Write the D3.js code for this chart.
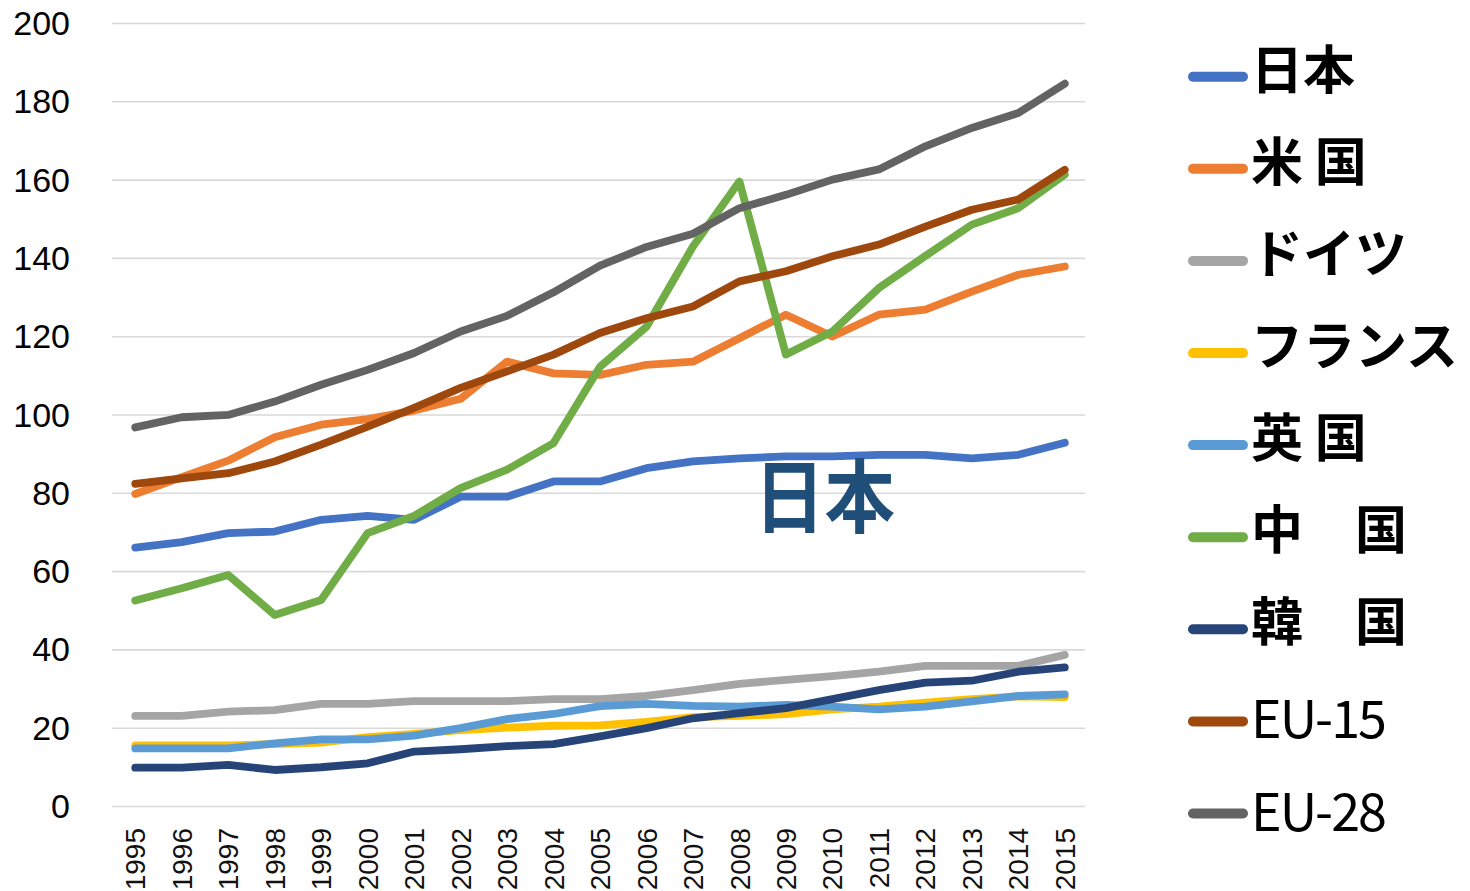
<!DOCTYPE html>
<html>
<head>
<meta charset="utf-8">
<script src="https://cdn.jsdelivr.net/npm/d3@7"></script>
<style>
  html, body { margin: 0; padding: 0; background: #fff; }
  svg { display: block; }
</style>
</head>
<body>
<svg id="chart" width="1470" height="891"></svg>
<script>
const years = ["1995","1996","1997","1998","1999","2000","2001","2002","2003","2004","2005","2006","2007","2008","2009","2010","2011","2012","2013","2014","2015"];
const yTicks = [0, 20, 40, 60, 80, 100, 120, 140, 160, 180, 200];

const japan   = [66.0, 67.4, 69.7, 70.1, 73.1, 74.1, 73.1, 79.0, 79.0, 82.9, 82.9, 86.3, 88.0, 88.8, 89.3, 89.3, 89.7, 89.7, 88.8, 89.7, 92.8];
const usa     = [79.7, 84.0, 88.2, 94.2, 97.4, 98.8, 101.0, 104.0, 113.5, 110.5, 110.1, 112.7, 113.5, 119.5, 125.5, 119.9, 125.5, 126.8, 131.4, 135.7, 137.8];
const germany = [23.0, 23.0, 24.1, 24.5, 26.1, 26.1, 26.8, 26.8, 26.8, 27.3, 27.3, 28.1, 29.6, 31.2, 32.2, 33.2, 34.3, 35.8, 35.8, 35.8, 38.6];
const france  = [15.5, 15.5, 15.5, 15.8, 16.2, 17.6, 18.4, 19.4, 20.0, 20.5, 20.6, 21.5, 22.7, 23.0, 23.5, 24.7, 25.4, 26.4, 27.3, 28.0, 27.8];
const uk      = [14.7, 14.7, 14.7, 16.0, 17.0, 17.0, 18.0, 19.9, 22.2, 23.5, 25.5, 26.1, 25.6, 25.4, 25.8, 25.4, 24.7, 25.4, 26.7, 28.1, 28.5];
const china   = [52.5, 55.6, 59.0, 48.8, 52.6, 69.7, 74.1, 81.2, 85.9, 92.7, 112.2, 122.4, 142.9, 159.5, 115.3, 121.2, 132.3, 140.5, 148.5, 152.7, 161.3];
const korea   = [9.8, 9.8, 10.5, 9.2, 9.9, 10.9, 13.9, 14.5, 15.3, 15.8, 17.8, 19.9, 22.4, 23.7, 25.0, 27.3, 29.6, 31.5, 32.0, 34.3, 35.4];
const eu15    = [82.3, 83.7, 85.0, 88.0, 92.3, 96.9, 101.7, 106.8, 111.0, 115.3, 120.8, 124.6, 127.6, 134.0, 136.6, 140.4, 143.4, 148.0, 152.3, 154.9, 162.5];
const eu28    = [96.7, 99.3, 99.9, 103.3, 107.6, 111.4, 115.7, 121.2, 125.2, 131.2, 138.0, 142.8, 146.2, 152.7, 156.1, 160.0, 162.6, 168.5, 173.2, 177.0, 184.5];

const seriesNames  = ["日本", "米 国", "ドイツ", "フランス", "英 国", "中\u3000国", "韓\u3000国", "EU-15", "EU-28"];
const seriesValues = [japan, usa, germany, france, uk, china, korea, eu15, eu28];
const seriesColors = ["#4472C4", "#ED7D31", "#A5A5A5", "#FFC000", "#5B9BD5", "#70AD47", "#264478", "#9E480E", "#636363"];
const annotation = "日本";

const svg = d3.select("#chart");
const plotLeft = 112, plotRight = 1088, plotTop = 23, plotBottom = 806;

const x = d3.scaleBand().domain(years).range([plotLeft, plotRight]);
const y = d3.scaleLinear().domain([0, 200]).range([plotBottom, plotTop]);
const cx = d => x(d) + x.bandwidth() / 2;

// Y axis with gridlines
const yAxis = svg.append("g")
  .attr("transform", `translate(${plotLeft},0)`)
  .call(d3.axisLeft(y).tickValues(yTicks).tickSize(-(plotRight - plotLeft - 3)).tickPadding(42));
yAxis.select(".domain").remove();
yAxis.selectAll(".tick line").attr("stroke", "#D9D9D9").attr("stroke-width", 1.6);
yAxis.selectAll(".tick text")
  .attr("fill", "#000")
  .attr("dy", "0.34em")
  .style("font-family", "'Liberation Sans', Arial, sans-serif")
  .style("font-size", "34px");

// X axis
const xAxis = svg.append("g")
  .attr("transform", `translate(0,${plotBottom})`)
  .call(d3.axisBottom(x).tickSize(0));
xAxis.select(".domain").remove();
xAxis.selectAll(".tick text")
  .attr("transform", "rotate(-90)")
  .attr("text-anchor", "end")
  .attr("x", -22)
  .attr("y", 0)
  .attr("dy", "0.36em")
  .attr("fill", "#111")
  .style("font-family", "'Liberation Sans', Arial, sans-serif")
  .style("font-size", "28px");

// Lines
const line = d3.line()
  .x((d, i) => cx(years[i]))
  .y(d => y(d));

seriesValues.forEach((vals, i) => {
  svg.append("path")
    .datum(vals)
    .attr("d", line)
    .attr("fill", "none")
    .attr("stroke", seriesColors[i])
    .attr("stroke-width", 7.8)
    .attr("stroke-linejoin", "round")
    .attr("stroke-linecap", "round");
});

// Annotation
svg.append("g")
  .attr("transform", `translate(${x("2008") + 38},${y(0) - 280}) scale(0.88,1)`)
  .append("text")
  .attr("x", 0)
  .attr("y", 0)
  .attr("fill", "#1F4E79")
  .style("font-family", "'Noto Sans CJK JP', sans-serif")
  .style("font-weight", "bold")
  .style("font-size", "80px")
  .text(annotation);

// Legend
const legend = svg.append("g");
seriesNames.forEach((name, i) => {
  const ly = 76.7 + i * 92.1;
  legend.append("line")
    .attr("x1", 1193).attr("x2", 1243)
    .attr("y1", ly).attr("y2", ly)
    .attr("stroke", seriesColors[i])
    .attr("stroke-width", 10)
    .attr("stroke-linecap", "round");
  const isLatin = /^EU/.test(name);
  legend.append("text")
    .attr("x", 1251)
    .attr("y", ly + (isLatin ? 17 : 12))
    .attr("fill", "#000")
    .style("font-family", "'Noto Sans CJK JP', sans-serif")
    .style("font-weight", isLatin ? "normal" : "bold")
    .style("font-size", "52px")
    .style("letter-spacing", isLatin ? "-2px" : "0px")
    .style("white-space", "pre")
    .text(name);
});
</script>
</body>
</html>
